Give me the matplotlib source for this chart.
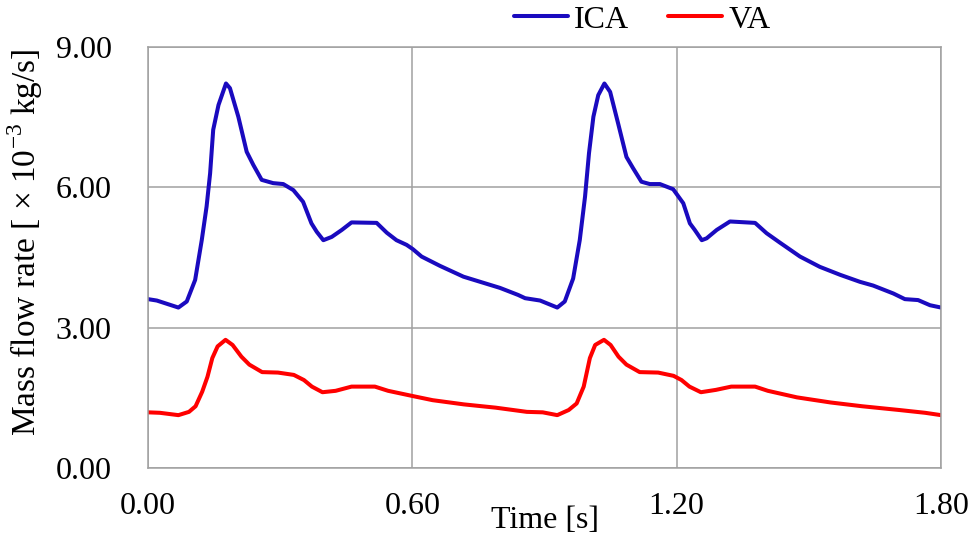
import matplotlib
matplotlib.use("Agg")
import matplotlib.pyplot as plt
from matplotlib.ticker import FormatStrFormatter

plt.rcParams['font.family'] = ['Liberation Serif', 'DejaVu Serif']
plt.rcParams['mathtext.fontset'] = 'custom'
plt.rcParams['mathtext.rm'] = 'Liberation Serif'

# ICA mass flow rate
ica_t = [0.000, 0.020, 0.069, 0.088, 0.107, 0.122, 0.133, 0.141, 0.148, 0.160,
         0.177, 0.186, 0.205, 0.224, 0.239, 0.258, 0.284, 0.307, 0.330, 0.352,
         0.371, 0.383, 0.398, 0.417, 0.440, 0.462, 0.519, 0.542, 0.564, 0.587,
         0.601, 0.621, 0.663, 0.716, 0.754, 0.799, 0.840, 0.856, 0.890, 0.929,
         0.946, 0.965, 0.980, 0.992, 1.001, 1.011, 1.022, 1.036, 1.049, 1.067,
         1.086, 1.101, 1.120, 1.139, 1.162, 1.192, 1.215, 1.230, 1.241, 1.257,
         1.268, 1.291, 1.321, 1.378, 1.404, 1.434, 1.480, 1.525, 1.571, 1.616,
         1.646, 1.692, 1.718, 1.748, 1.775, 1.800]
ica_v = [3.61, 3.58, 3.43, 3.56, 4.02, 4.87, 5.59, 6.30, 7.23, 7.76,
         8.22, 8.12, 7.51, 6.76, 6.48, 6.16, 6.09, 6.07, 5.94, 5.69,
         5.23, 5.05, 4.87, 4.94, 5.09, 5.25, 5.24, 5.03, 4.87, 4.77,
         4.68, 4.52, 4.32, 4.09, 3.98, 3.85, 3.70, 3.63, 3.58, 3.43,
         3.56, 4.05, 4.87, 5.80, 6.73, 7.51, 7.97, 8.22, 8.04, 7.37,
         6.65, 6.41, 6.12, 6.07, 6.07, 5.96, 5.66, 5.23, 5.09, 4.87,
         4.91, 5.09, 5.27, 5.24, 5.02, 4.82, 4.52, 4.30, 4.13, 3.98,
         3.90, 3.73, 3.61, 3.59, 3.48, 3.43]

# VA mass flow rate
va_t = [0.000, 0.027, 0.069, 0.093, 0.108, 0.123, 0.135, 0.146, 0.158, 0.176,
        0.192, 0.212, 0.230, 0.259, 0.295, 0.331, 0.354, 0.372, 0.396, 0.426,
        0.462, 0.515, 0.545, 0.600, 0.646, 0.717, 0.789, 0.860, 0.896, 0.929,
        0.955, 0.973, 0.989, 1.003, 1.015, 1.035, 1.050, 1.068, 1.086, 1.116,
        1.158, 1.193, 1.211, 1.229, 1.255, 1.289, 1.324, 1.378, 1.407, 1.473,
        1.550, 1.621, 1.705, 1.764, 1.800]
va_v = [1.19, 1.18, 1.13, 1.20, 1.32, 1.63, 1.95, 2.35, 2.60, 2.74,
        2.63, 2.38, 2.21, 2.05, 2.04, 1.99, 1.88, 1.74, 1.62, 1.65,
        1.74, 1.74, 1.65, 1.54, 1.45, 1.36, 1.29, 1.20, 1.19, 1.13,
        1.24, 1.38, 1.74, 2.35, 2.63, 2.74, 2.63, 2.38, 2.21, 2.05,
        2.04, 1.97, 1.88, 1.74, 1.62, 1.67, 1.74, 1.74, 1.65, 1.51,
        1.40, 1.32, 1.24, 1.18, 1.13]

x_ticks = [0.0, 0.6, 1.2, 1.8]
y_ticks = [0.0, 3.0, 6.0, 9.0]

GRID = '#a0a0a0'
FS = 23

fig = plt.figure(figsize=(9.72, 5.46), dpi=100)
ax = fig.add_axes([148 / 972, 1 - 468 / 546, 793 / 972, 421 / 546])

ax.plot(ica_t, ica_v, color='#1a0abf', linewidth=2.9, label='ICA',
        solid_joinstyle='round', solid_capstyle='round')
ax.plot(va_t, va_v, color='#ff0000', linewidth=2.9, label='VA',
        solid_joinstyle='round', solid_capstyle='round')

ax.set_xlim(0, 1.8)
ax.set_ylim(0, 9)
ax.set_xticks(x_ticks)
ax.set_yticks(y_ticks)
ax.xaxis.set_major_formatter(FormatStrFormatter('%.2f'))
ax.yaxis.set_major_formatter(FormatStrFormatter('%.2f'))
ax.tick_params(axis='both', length=0, labelsize=FS)
ax.tick_params(axis='x', pad=17)
ax.tick_params(axis='y', pad=26)
ax.grid(True, color=GRID, linewidth=1.1)
ax.set_axisbelow(True)
for s in ax.spines.values():
    s.set_color(GRID)
    s.set_linewidth(1.1)

ax.set_xlabel('Time [s]', fontsize=FS)
ax.xaxis.set_label_coords(0.5, -0.09)
fig.text(25 / 972, 1 - 242 / 546, 'Mass flow rate [ \u00d7 10$^{-3}$ kg/s]',
         rotation=90, ha='center', va='center', fontsize=24)

fig.legend(loc='center', bbox_to_anchor=(642 / 972, 1 - 20 / 546), ncol=2,
           frameon=False, fontsize=FS, handlelength=1.7, handletextpad=0.2,
           columnspacing=1.2)

fig.savefig('out.png', dpi=100)
